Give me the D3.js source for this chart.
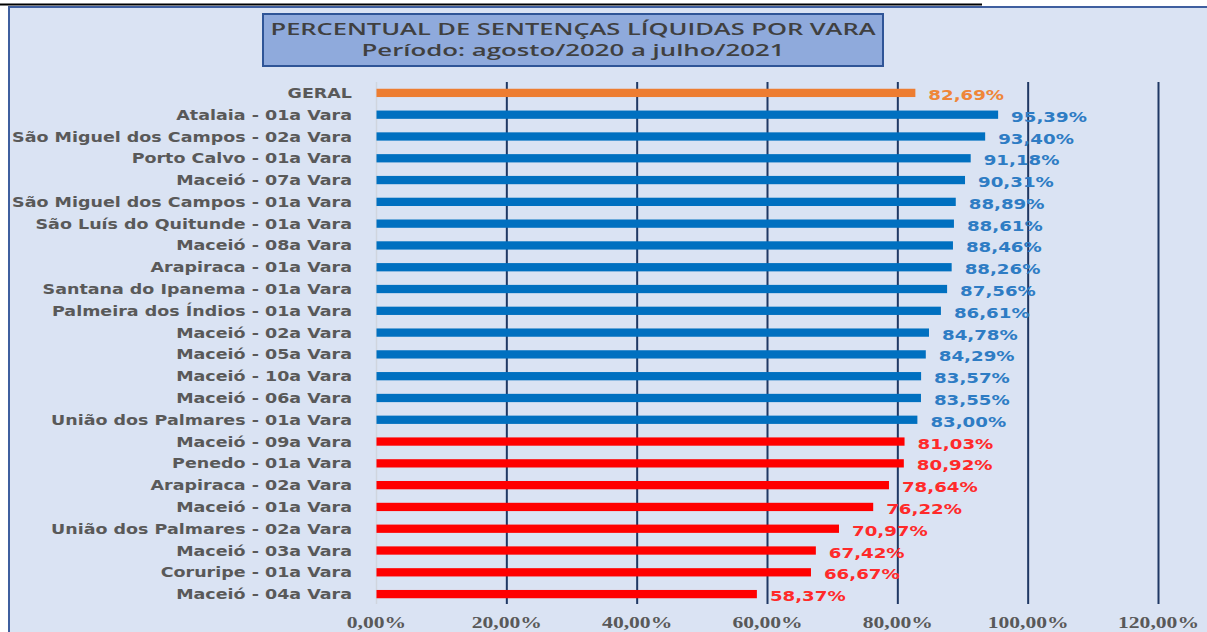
<!DOCTYPE html>
<html>
<head>
<meta charset="utf-8">
<script src="https://cdn.jsdelivr.net/npm/d3@7"></script>
<style>
  html, body { margin: 0; padding: 0; background: #ffffff; }
  svg { display: block; }
</style>
</head>
<body>
<script>
const categories = [
  "GERAL",
  "Atalaia - 01a Vara",
  "São Miguel dos Campos - 02a Vara",
  "Porto Calvo - 01a Vara",
  "Maceió - 07a Vara",
  "São Miguel dos Campos - 01a Vara",
  "São Luís do Quitunde - 01a Vara",
  "Maceió - 08a Vara",
  "Arapiraca - 01a Vara",
  "Santana do Ipanema - 01a Vara",
  "Palmeira dos Índios - 01a Vara",
  "Maceió - 02a Vara",
  "Maceió - 05a Vara",
  "Maceió - 10a Vara",
  "Maceió - 06a Vara",
  "União dos Palmares - 01a Vara",
  "Maceió - 09a Vara",
  "Penedo - 01a Vara",
  "Arapiraca - 02a Vara",
  "Maceió - 01a Vara",
  "União dos Palmares - 02a Vara",
  "Maceió - 03a Vara",
  "Coruripe - 01a Vara",
  "Maceió - 04a Vara"
];
const values = [82.69, 95.39, 93.40, 91.18, 90.31, 88.89, 88.61, 88.46, 88.26, 87.56, 86.61,
  84.78, 84.29, 83.57, 83.55, 83.00, 81.03, 80.92, 78.64, 76.22, 70.97, 67.42, 66.67, 58.37];
const xTicks = [0, 20, 40, 60, 80, 100, 120];
const titleLines = ["PERCENTUAL DE SENTENÇAS LÍQUIDAS POR VARA", "Período: agosto/2020 a julho/2021"];

const W = 1207, H = 632;
const fmt = v => v.toFixed(2).replace(".", ",") + "%";

const svg = d3.select("body").append("svg").attr("width", W).attr("height", H);

// page remnant: underline of cut-off heading
svg.append("line").attr("x1", 0).attr("x2", 982).attr("y1", 4.5).attr("y2", 4.5)
  .attr("stroke", "#000").attr("stroke-width", 2);

// chart area
svg.append("rect").attr("x", 9).attr("y", 7).attr("width", W + 10).attr("height", H + 10)
  .attr("fill", "#dae3f3").attr("stroke", "#3f5f9f").attr("stroke-width", 2);

// title box
const tb = { x: 263, y: 14, w: 620, h: 52 };
svg.append("rect").attr("x", tb.x).attr("y", tb.y).attr("width", tb.w).attr("height", tb.h)
  .attr("fill", "#8faadc").attr("stroke", "#2f5597").attr("stroke-width", 2);
svg.append("text").attr("x", tb.x + tb.w / 2).attr("y", 35).attr("text-anchor", "middle")
  .attr("font-family", "Open Sans").attr("font-weight", 600).attr("font-size", 16.5)
  .attr("fill", "#404040").attr("textLength", 605).attr("lengthAdjust", "spacingAndGlyphs")
  .text(titleLines[0]);
svg.append("text").attr("x", tb.x + tb.w / 2).attr("y", 56).attr("text-anchor", "middle")
  .attr("font-family", "Open Sans").attr("font-weight", 600).attr("font-size", 16.5)
  .attr("fill", "#404040").attr("textLength", 423).attr("lengthAdjust", "spacingAndGlyphs")
  .text(titleLines[1]);

const x = d3.scaleLinear().domain([0, 120]).range([376.5, 1158.5]);
const y = d3.scaleBand().domain(categories).range([82, 605]).paddingInner(0.62).paddingOuter(0.31);

// gridlines
svg.append("g").selectAll("line").data(xTicks).join("line")
  .attr("x1", d => x(d)).attr("x2", d => x(d))
  .attr("y1", 82).attr("y2", 604)
  .attr("stroke", d => d === 0 ? "#d0d5de" : "#1f3864")
  .attr("stroke-width", d => d === 0 ? 1.5 : 2);

// x tick labels
const SX = 1.35;
svg.append("g").selectAll("text").data(xTicks).join("text")
  .attr("transform", d => `translate(${x(d)},628) scale(${SX},1)`)
  .attr("text-anchor", "middle")
  .attr("font-family", "Liberation Sans Narrow").attr("font-weight", 700).attr("font-size", 16)
  .attr("fill", "#595959")
  .text(d => d.toFixed(2).replace(".", ",") + "%");

const geral = values[0];
const barColor = (v, i) => i === 0 ? "#ed7d31" : (v >= geral ? "#0070c0" : "#ff0000");
const labColor = (v, i) => i === 0 ? "#ef8638" : (v >= geral ? "#2e7cc4" : "#ff2a2a");

// bars
svg.append("g").selectAll("rect").data(values).join("rect")
  .attr("x", x(0)).attr("y", (d, i) => y(categories[i]))
  .attr("width", d => x(d) - x(0)).attr("height", y.bandwidth())
  .attr("fill", (d, i) => barColor(d, i));

// category labels
const LSX = 1.25;
svg.append("g").selectAll("text").data(categories).join("text")
  .attr("transform", d => `translate(352,${y(d) + y.bandwidth() / 2}) scale(${LSX},1)`)
  .attr("text-anchor", "end").attr("dy", "0.36em")
  .attr("font-family", "DejaVu Sans").attr("font-weight", 700).attr("font-size", 14)
  .attr("fill", "#595959")
  .text(d => d);

// value labels
const VSX = 1.3;
svg.append("g").selectAll("text").data(values).join("text")
  .attr("transform", (d, i) => `translate(${x(d) + 13},${y(categories[i]) + y.bandwidth() / 2 + 2}) scale(${VSX},1)`)
  .attr("text-anchor", "start").attr("dy", "0.36em")
  .attr("font-family", "DejaVu Sans").attr("font-weight", 700).attr("font-size", 14)
  .attr("fill", (d, i) => labColor(d, i))
  .text(d => fmt(d));
</script>
</body>
</html>
